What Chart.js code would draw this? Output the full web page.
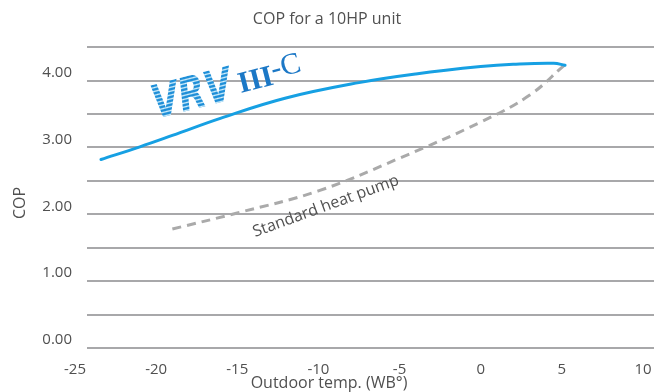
<!DOCTYPE html>
<html>
<head>
<meta charset="utf-8">
<script src="https://cdn.jsdelivr.net/npm/chart.js@4.4.0/dist/chart.umd.min.js"></script>
<style>
body { margin: 0; background: #fff; }
</style>
</head>
<body>
<canvas id="copchart" width="654" height="392"></canvas>
<script>
// readings (outdoor temp WB, COP)
var vrvTemps = [-23.4, -21, -19, -16, -12, -7.5, -4, 0, 2, 4.5, 5.2];
var vrvCop   = [2.82, 3.01, 3.18, 3.44, 3.74, 3.97, 4.10, 4.21, 4.245, 4.26, 4.23];
var stdTemps = [-19, -15, -10, -5, 0, 3, 5.15];
var stdCop   = [1.78, 2.02, 2.35, 2.84, 3.38, 3.78, 4.23];
var xTicks = [-25, -20, -15, -10, -5, 0, 5, 10];

var textColor = '#505050';
var gridColor = '#a8a8aa';

function toPoints(xs, ys) {
	return xs.map(function(x, i) { return { x: x, y: ys[i] }; });
}

var textLayer = {
	id: 'textLayer',
	afterDatasetsDraw: function(chart) {
		var ctx = chart.ctx;
		var xs = chart.scales.x, ys = chart.scales.y;
		ctx.save();
		ctx.fillStyle = textColor;
		ctx.font = '16px "Open Sans"';
		ctx.textAlign = 'center';
		ctx.textBaseline = 'middle';
		ctx.fillText('Outdoor temp. (WB°)', 329, 383);

		ctx.save();
		ctx.translate(20, 203);
		ctx.rotate(-Math.PI / 2);
		ctx.fillText('COP', 0, 0);
		ctx.restore();

		// label along the dashed curve
		ctx.save();
		ctx.translate(xs.getPixelForValue(-13.9), ys.getPixelForValue(1.66));
		ctx.rotate(-0.35);
		ctx.textAlign = 'left';
		ctx.textBaseline = 'alphabetic';
		ctx.fillText('Standard heat pump', 0, 0);
		ctx.restore();

		// VRV III-C logo, striped fill
		var pc = document.createElement('canvas');
		pc.width = 4; pc.height = 3;
		var p = pc.getContext('2d');
		p.fillStyle = '#d4f0fc';
		p.fillRect(0, 0, 4, 3);
		p.fillStyle = '#1f8fd8';
		p.fillRect(0, 0, 4, 2);
		var stripes = ctx.createPattern(pc, 'repeat');

		ctx.save();
		ctx.translate(xs.getPixelForValue(-20.0), ys.getPixelForValue(3.43));
		ctx.rotate(-0.25);
		ctx.textAlign = 'left';
		ctx.textBaseline = 'alphabetic';
		ctx.save();
		ctx.scale(0.95, 1.25);
		ctx.font = 'italic bold 37px "DejaVu Sans"';
		ctx.fillStyle = stripes;
		ctx.fillText('VRV', 0, 0);
		var w = ctx.measureText('VRV').width * 0.95;
		ctx.restore();
		ctx.font = 'bold 30px "Liberation Serif"';
		ctx.fillStyle = '#1c78c6';
		ctx.fillText('III', w + 7, -4);
		var w2 = ctx.measureText('III').width;
		ctx.font = '30px "Liberation Serif"';
		ctx.fillText('-C', w + 7 + w2, -10);
		ctx.restore();

		ctx.restore();
	}
};

new Chart(document.getElementById('copchart'), {
	type: 'line',
	data: {
		datasets: [
			{
				label: 'VRV III-C',
				data: toPoints(vrvTemps, vrvCop),
				borderColor: '#16a0e3',
				borderWidth: 3,
				pointRadius: 0,
				tension: 0.4,
				borderCapStyle: 'round'
			},
			{
				label: 'Standard heat pump',
				data: toPoints(stdTemps, stdCop),
				borderColor: '#aaaaaa',
				borderWidth: 3,
				borderDash: [9, 6],
				pointRadius: 0,
				tension: 0.4
			}
		]
	},
	options: {
		responsive: false,
		animation: false,
		devicePixelRatio: 1,
		layout: { padding: 0 },
		plugins: {
			legend: { display: false },
			tooltip: { enabled: false },
			title: {
				display: true,
				text: 'COP for a 10HP unit',
				color: textColor,
				font: { family: 'Open Sans', size: 16, weight: 'normal' },
				padding: { top: 10, bottom: 18 }
			}
		},
		scales: {
			x: {
				type: 'linear',
				bounds: 'data',
				min: -24.26,
				max: 10.68,
				grid: { display: false },
				border: { display: false },
				ticks: {
					color: textColor,
					font: { family: 'Open Sans', size: 15 },
					padding: 5,
					autoSkip: false,
					maxRotation: 0
				},
				afterBuildTicks: function(scale) {
					scale.ticks = xTicks.map(function(v) { return { value: v }; });
				},
				afterFit: function(scale) {
					scale.height = 44;
					scale.paddingLeft = 0;
					scale.paddingRight = 0;
				}
			},
			y: {
				min: 0,
				max: 4.5,
				grid: { color: gridColor, lineWidth: 2, drawTicks: false },
				border: { display: false },
				ticks: {
					stepSize: 0.5,
					color: textColor,
					font: { family: 'Open Sans', size: 15 },
					padding: 15,
					labelOffset: -8,
					callback: function(v) { return Number.isInteger(v) ? v.toFixed(2) : ''; }
				},
				afterFit: function(scale) {
					scale.width = 87;
					scale.paddingTop = 0;
					scale.paddingBottom = 0;
				}
			}
		}
	},
	plugins: [textLayer]
});
</script>
</body>
</html>
